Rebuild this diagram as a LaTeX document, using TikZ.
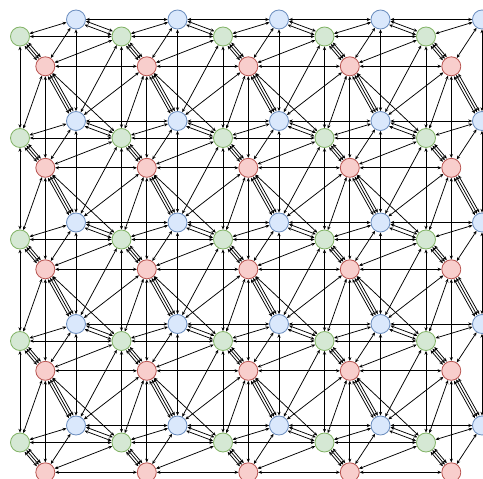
\documentclass[tikz,border=0pt]{standalone}
\usetikzlibrary{arrows.meta,backgrounds}
\definecolor{bfill}{HTML}{DAE8FC}\definecolor{bdraw}{HTML}{6C8EBF}
\definecolor{gfill}{HTML}{D5E8D4}\definecolor{gdraw}{HTML}{82B366}
\definecolor{rfill}{HTML}{F8CECC}\definecolor{rdraw}{HTML}{B85450}
\begin{document}
\begin{tikzpicture}[x=1pt,y=-1pt,
  atom/.style={circle,minimum size=19pt,inner sep=0pt,line width=0.8pt},
  bat/.style={atom,fill=bfill,draw=bdraw},
  gat/.style={atom,fill=gfill,draw=gdraw},
  rat/.style={atom,fill=rfill,draw=rdraw},
  bond/.style={{Stealth[length=3.8pt,width=3.2pt]}-{Stealth[length=3.8pt,width=3.2pt]},line width=0.75pt,black},
  sh/.style 2 args={transform canvas={shift={(#1,#2)}}}]
\useasboundingbox (0,0) rectangle (483,479);
\foreach \i in {0,...,4}{\foreach \j in {0,...,4}{
  \node[bat] (B-\i-\j) at ({76+101.5*\i},{19.5+101.5*\j}) {};
  \node[gat] (G-\i-\j) at ({20+101.5*\i},{36.5+101.5*\j}) {};
  \node[rat] (R-\i-\j) at ({45.3+101.5*\i},{66.3+101.5*\j}) {};
}}
\begin{pgfonlayer}{background}
\foreach \i in {0,...,4}{\foreach \j in {0,...,4}{
  \pgfmathtruncatemacro\ip{\i+1}
  \pgfmathtruncatemacro\jp{\j+1}
  \pgfmathtruncatemacro\im{\i-1}
  \pgfmathtruncatemacro\jm{\j-1}
  \draw[bond] (G-\i-\j) -- (B-\i-\j);
  \draw[bond] (B-\i-\j) -- (R-\i-\j);
  \draw[bond,sh={-1.9}{1.6}] (G-\i-\j) -- (R-\i-\j);
  \draw[bond] (G-\i-\j) -- (R-\i-\j);
  \draw[bond,sh={1.9}{-1.6}] (G-\i-\j) -- (R-\i-\j);
  \ifnum\i<4
    \draw[bond] (B-\i-\j) -- (B-\ip-\j);
    \draw[bond] (G-\i-\j) -- (G-\ip-\j);
    \draw[bond] (R-\i-\j) -- (R-\ip-\j);
    \draw[bond,sh={-0.7}{1.8}] (B-\i-\j) -- (G-\ip-\j);
    \draw[bond,sh={0.7}{-1.8}] (B-\i-\j) -- (G-\ip-\j);
    \draw[bond] (R-\i-\j) -- (G-\ip-\j);
    \ifnum\j>0 \draw[bond] (B-\i-\j) -- (G-\ip-\jm); \fi
  \fi
  \ifnum\j<4
    \draw[bond] (B-\i-\j) -- (B-\i-\jp);
    \draw[bond] (G-\i-\j) -- (G-\i-\jp);
    \draw[bond] (R-\i-\j) -- (R-\i-\jp);
    \draw[bond,sh={-2.2}{1.25}] (R-\i-\j) -- (B-\i-\jp);
    \draw[bond] (R-\i-\j) -- (B-\i-\jp);
    \draw[bond,sh={2.2}{-1.25}] (R-\i-\j) -- (B-\i-\jp);
    \draw[bond] (R-\i-\j) -- (G-\i-\jp);
    \ifnum\i<4 \draw[bond] (R-\i-\j) -- (G-\ip-\jp); \fi
    \ifnum\i>0 \draw[bond] (R-\i-\j) -- (B-\im-\jp); \fi
  \fi
}}
\end{pgfonlayer}
\end{tikzpicture}
\end{document}
